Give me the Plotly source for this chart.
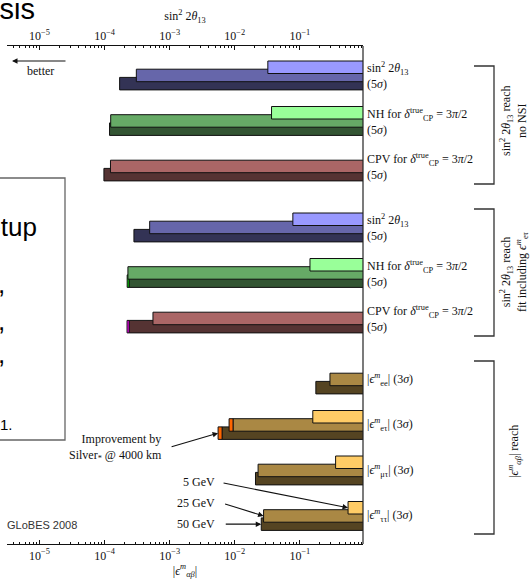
import math
import plotly.graph_objects as go

# ---------------- data ----------------
row_names = ["sin2_noNSI", "NH_noNSI", "CPV_noNSI",
             "sin2_fit", "NH_fit", "CPV_fit",
             "ee", "etau", "mutau", "tautau"]
row_section = [0, 0, 0, 1, 1, 1, 2, 2, 2, 2]
row_slot = [0, 1, 2, 0, 1, 2, 0, 1, 2, 3]
row_family = ["blue", "green", "red", "blue", "green", "red", "tan", "tan", "tan", "tan"]

reach_5gev = [0.0322, 0.0367, None, 0.078, 0.143, None, None, 0.158, 0.354, 0.55]
reach_25gev = [3.07e-4, 1.24e-4, 1.23e-4, 4.92e-4, 2.28e-4, 5.53e-4, 0.29, 9.4e-3, 0.0228, 0.0277]
reach_50gev = [1.70e-4, 1.19e-4, 9.75e-5, 2.82e-4, 2.38e-4, 2.38e-4, 0.176, 6.38e-3, 0.0208, 0.0255]
silver_25gev = [None, None, None, None, None, None, None, 8.17e-3, None, None]
silver_50gev = [None, None, None, None, 2.22e-4, 2.21e-4, None, 5.54e-3, None, None]

lab_sin = "sin<sup>2</sup> 2<i>θ</i><sub>13</sub>"
lab_nh = "NH for <i>δ</i><sup>true</sup><sub>CP</sub> = 3<i>π</i>/2"
lab_cpv = "CPV for <i>δ</i><sup>true</sup><sub>CP</sub> = 3<i>π</i>/2"
row_labels = [lab_sin, lab_nh, lab_cpv, lab_sin, lab_nh, lab_cpv,
              "|<i>ϵ</i><sup><i>m</i></sup><sub>ee</sub>| (3<i>σ</i>)",
              "|<i>ϵ</i><sup><i>m</i></sup><sub>eτ</sub>| (3<i>σ</i>)",
              "|<i>ϵ</i><sup><i>m</i></sup><sub>μτ</sub>| (3<i>σ</i>)",
              "|<i>ϵ</i><sup><i>m</i></sup><sub>ττ</sub>| (3<i>σ</i>)"]
section_labels = ["sin<sup>2</sup> 2<i>θ</i><sub>13</sub> reach<br>no NSI",
                  "sin<sup>2</sup> 2<i>θ</i><sub>13</sub> reach<br>fit including <i>ϵ</i><sup><i>m</i></sup><sub>eτ</sub>",
                  "|<i>ϵ</i><sup><i>m</i></sup><sub><i>αβ</i></sub>| reach"]
tick_vals = [1e-5, 1e-4, 1e-3, 1e-2, 1e-1]
tick_text = ["10<sup>−5</sup>", "10<sup>−4</sup>", "10<sup>−3</sup>", "10<sup>−2</sup>", "10<sup>−1</sup>"]

family_colors = {
    "blue": ["#9999ff", "#6666aa", "#333355"],
    "green": ["#99ff99", "#66aa66", "#335533"],
    "red": ["#ff9999", "#aa6666", "#553333"],
    "tan": ["#ffcc66", "#aa8844", "#554422"],
}
silver_colors = {"blue": "#3333ff", "green": "#00dd00", "red": "#ff00ff", "tan": "#ff6600"}

# ---------------- layout geometry ----------------
W, H = 532, 582
PL, PR, PT, PB = 7, 363, 46, 544
PH = PB - PT
BAR_H = 12.5
OFF = 8.2
SERIF = "Liberation Serif, Times New Roman, serif"
SANS = "Liberation Sans, Arial, sans-serif"


def px(xp):
    return (xp - PL) / (PR - PL)


def py(yp):
    return (PB - yp) / PH


def group_top(i):
    return 15 + 152 * row_section[i] + 45.5 * row_slot[i]


def center(i, level):
    return group_top(i) + OFF * level + BAR_H / 2


fig = go.Figure()


def add_layer(values, level, colors_fn):
    ys, xs, bases, cols = [], [], [], []
    for i, v in enumerate(values):
        if v is None:
            continue
        ys.append(center(i, level))
        bases.append(v)
        xs.append(1.0 - v)
        cols.append(colors_fn(i))
    fig.add_trace(go.Bar(orientation="h", y=ys, x=xs, base=bases, width=BAR_H,
                         marker=dict(color=cols, line=dict(color="#111111", width=1)),
                         hoverinfo="skip", showlegend=False))


def add_silver(values, main_values, level):
    ys, xs, bases, cols = [], [], [], []
    for i, v in enumerate(values):
        if v is None:
            continue
        ys.append(center(i, level))
        bases.append(v)
        xs.append(main_values[i] - v)
        cols.append(silver_colors[row_family[i]])
    fig.add_trace(go.Bar(orientation="h", y=ys, x=xs, base=bases, width=BAR_H,
                         marker=dict(color=cols, line=dict(color="#111111", width=1)),
                         hoverinfo="skip", showlegend=False))


add_layer(reach_50gev, 2, lambda i: family_colors[row_family[i]][2])
add_silver(silver_50gev, reach_50gev, 2)
add_layer(reach_25gev, 1, lambda i: family_colors[row_family[i]][1])
add_silver(silver_25gev, reach_25gev, 1)
add_layer(reach_5gev, 0, lambda i: family_colors[row_family[i]][0])

# invisible trace to create the top axis
fig.add_trace(go.Scatter(x=[1e-3], y=[-1000], xaxis="x2", mode="markers",
                         marker=dict(opacity=0), hoverinfo="skip", showlegend=False))

ann = []


def text_ann(xp, yp, text, xanchor="center", size=12, family=SERIF, color="#111", **kw):
    d = dict(x=px(xp), xref="paper", y=py(yp), yref="paper", text=text, showarrow=False,
             xanchor=xanchor, yanchor="middle", font=dict(family=family, size=size, color=color))
    d.update(kw)
    ann.append(d)


# row labels
for i, lab in enumerate(row_labels):
    if row_section[i] < 2:
        ann.append(dict(x=1, xref="paper", xshift=2, xanchor="left", yanchor="middle",
                        y=group_top(i) + 7.5, yref="y",
                        text=lab, showarrow=False, font=dict(family=SERIF, size=12, color="#111")))
        ann.append(dict(x=1, xref="paper", xshift=2, xanchor="left", yanchor="middle",
                        y=group_top(i) + 23, yref="y",
                        text="(5<i>σ</i>)", showarrow=False, font=dict(family=SERIF, size=12, color="#111")))
    else:
        ann.append(dict(x=1, xref="paper", xshift=2, xanchor="left", yanchor="middle",
                        y=center(i, 1), yref="y",
                        text=lab, showarrow=False, font=dict(family=SERIF, size=12, color="#111")))

# section brackets
bracket_px = [(66, 184, 121), (209, 336, 272), (361, 534, 452)]
shapes = []
for (ytop, ybot, ymid), lab in zip(bracket_px, section_labels):
    shapes.append(dict(type="path", xref="paper", yref="paper",
                       path=f"M {px(474)},{py(ytop)} L {px(494)},{py(ytop)} L {px(494)},{py(ybot)} L {px(474)},{py(ybot)}",
                       line=dict(color="#333333", width=1.3)))
    text_ann(514, ymid, lab, textangle=-90)

# right frame line
shapes.append(dict(type="line", xref="paper", yref="paper", x0=1, x1=1, y0=0, y1=1,
                   line=dict(color="#222", width=1.2)))

# left cropped box
shapes.append(dict(type="path", xref="paper", yref="paper",
                   path=f"M {px(-20)},{py(178)} L {px(65)},{py(178)} L {px(65)},{py(440)} L {px(-20)},{py(440)}",
                   line=dict(color="#666666", width=1.3)))

# better arrow
ann.append(dict(x=px(12), xref="paper", y=py(61), yref="paper", ax=55, ay=0, text="",
                showarrow=True, arrowhead=2, arrowsize=1, arrowwidth=1.1, arrowcolor="#111"))
text_ann(40, 71, "better")

# improvement annotation
ann.append(dict(x=math.log10(silver_50gev[7]), xref="x", y=center(7, 2), yref="y", ax=-48, ay=14, text="",
                showarrow=True, arrowhead=2, arrowsize=1, arrowwidth=1.1, arrowcolor="#111"))
text_ann(164, 447, "Improvement by<br>Silver<sub>*</sub> @ 4000 km", xanchor="right", align="right")

# energy annotations
energy_rows = [(reach_5gev, 0, "5 GeV", -126, -25, 482), (reach_25gev, 1, "25 GeV", -40, -12.5, 503),
               (reach_50gev, 2, "50 GeV", -37, 0, 524)]
for vals, lvl, txt, ax, ay, ty in energy_rows:
    ann.append(dict(x=math.log10(vals[9]), xref="x", y=center(9, lvl), yref="y", ax=ax, ay=ay, text="",
                    showarrow=True, arrowhead=2, arrowsize=1, arrowwidth=1.1, arrowcolor="#111"))
    text_ann(217, ty, txt, xanchor="right")

text_ann(5, 525, "GLoBES 2008", xanchor="left", size=11, family=SANS, color="#333")

# cropped neighbouring slide text
text_ann(37, 9, "Analysis", xanchor="right", size=29, family=SANS, color="#000")
text_ann(39, 227, "Setup", xanchor="right", size=26, family=SANS, color="#000")
for cy in [284, 321, 354]:
    text_ann(7, cy, ",", xanchor="right", size=26, family=SANS, color="#000")
text_ann(15, 424, "1.", xanchor="right", size=15, family=SANS, color="#000")

axis_common = dict(type="log", range=[-5.5, -0.03], showgrid=False, zeroline=False,
                   showline=True, linecolor="#111", linewidth=1.2,
                   ticks="inside", ticklen=4, tickcolor="#111", tickwidth=1,
                   tickvals=tick_vals, ticktext=tick_text,
                   tickfont=dict(family=SERIF, size=12, color="#111"),
                   minor=dict(ticks="inside", ticklen=2, tickcolor="#111", dtick="D1", showgrid=False),
                   automargin=False)

fig.update_layout(
    width=W, height=H, autosize=False, template="none",
    margin=dict(l=PL, r=W - PR, t=PT, b=H - PB, pad=0),
    paper_bgcolor="white", plot_bgcolor="white",
    barmode="overlay", showlegend=False,
    xaxis=dict(**axis_common, side="bottom",
               title=dict(text="|<i>ϵ</i><sup><i>m</i></sup><sub><i>αβ</i></sub>|",
                          font=dict(family=SERIF, size=12, color="#111"), standoff=2)),
    xaxis2=dict(**axis_common, side="top", overlaying="x", anchor="y",
                title=dict(text="sin<sup>2</sup> 2<i>θ</i><sub>13</sub>",
                           font=dict(family=SERIF, size=12, color="#111"), standoff=4)),
    yaxis=dict(range=[PH, 0], showgrid=False, zeroline=False, showline=False,
               showticklabels=False, ticks="", automargin=False),
    annotations=ann, shapes=shapes,
)

fig.write_html("out.html", config={"displayModeBar": False},
               post_script="document.body.style.margin='0';document.body.style.overflow='hidden';")
